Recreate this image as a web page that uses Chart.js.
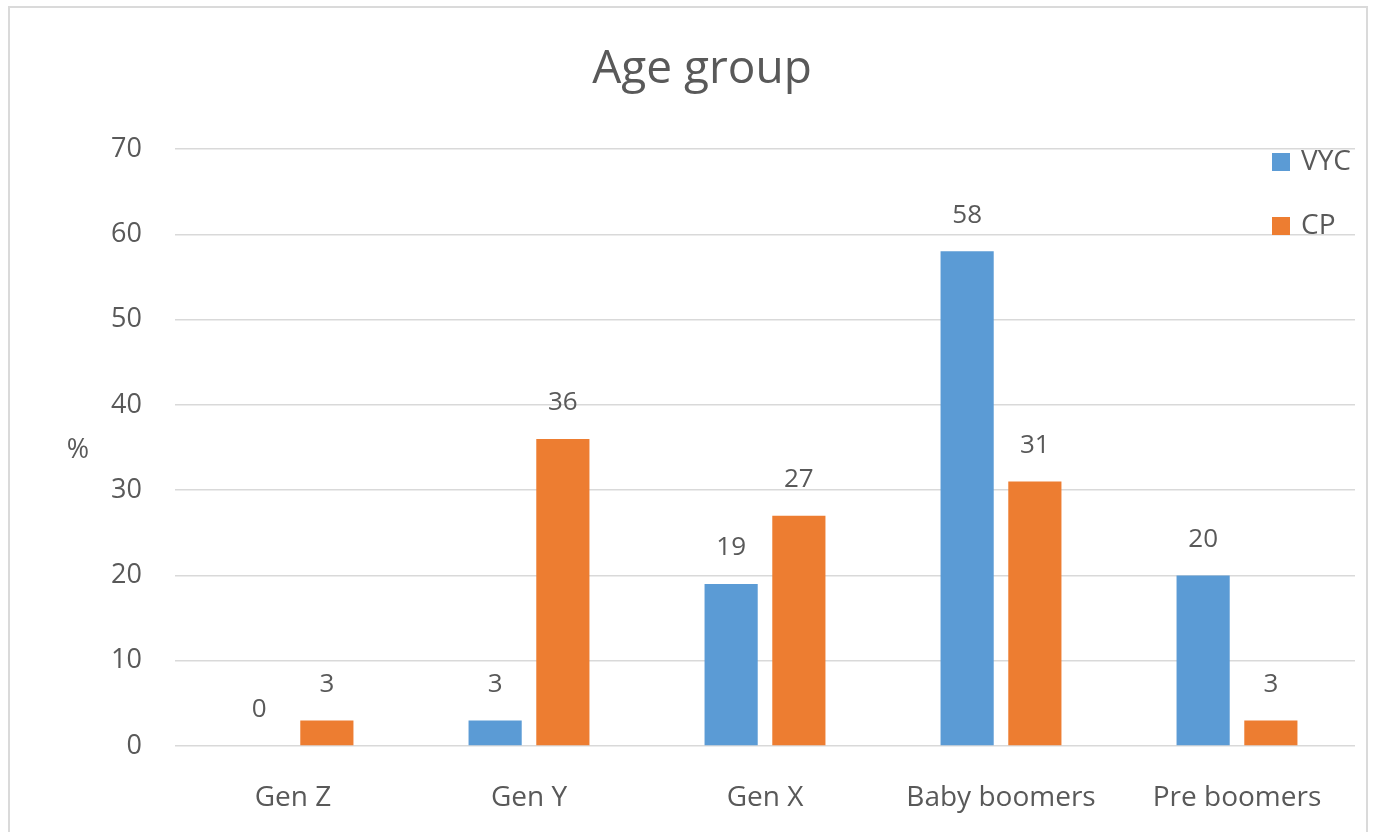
<!DOCTYPE html>
<html>
<head>
<meta charset="utf-8">
<script src="https://cdn.jsdelivr.net/npm/chart.js"></script>
<style>
  body { margin: 0; background: #fff; width: 1376px; height: 832px; overflow: hidden; position: relative; }
  #frame { position: absolute; left: 8px; top: 6px; width: 1360px; height: 840px; border: 2px solid #dadada; box-sizing: border-box; }
  canvas { position: absolute; left: 0; top: 0; }
</style>
</head>
<body>
<div id="frame"></div>
<canvas id="ageChart" width="1376" height="832"></canvas>
<script>
const categories = ['Gen Z', 'Gen Y', 'Gen X', 'Baby boomers', 'Pre boomers'];
const vycValues = [0, 3, 19, 58, 20];
const cpValues = [3, 36, 27, 31, 3];
const yTicks = [0, 10, 20, 30, 40, 50, 60, 70];

const FONT = '"Open Sans", "DejaVu Sans", sans-serif';
const TEXT = '#595959';

// title, "%" axis label, legend and value labels drawn on top of the bars
const decorations = {
  id: 'decorations',
  afterDatasetsDraw(chart) {
    const ctx = chart.ctx;
    ctx.save();
    ctx.fillStyle = TEXT;

    ctx.font = '46px ' + FONT;
    ctx.textAlign = 'center';
    ctx.textBaseline = 'middle';
    ctx.fillText('Age group', 702, 70);

    ctx.font = '27px ' + FONT;
    ctx.fillText('%', 78, 450);

    // value labels above each bar
    ctx.font = '26px ' + FONT;
    chart.data.datasets.forEach((ds, i) => {
      chart.getDatasetMeta(i).data.forEach((bar, j) => {
        ctx.fillText(String(ds.data[j]), bar.x, bar.y - 36);
      });
    });

    // legend
    const legendY = [162, 226];
    ctx.font = '28px ' + FONT;
    chart.data.datasets.forEach((ds, i) => {
      ctx.fillStyle = ds.backgroundColor;
      ctx.fillRect(1272, legendY[i] - 9, 18, 18);
      ctx.fillStyle = TEXT;
      ctx.textAlign = 'left';
      ctx.fillText(ds.label, 1301, legendY[i]);
    });
    ctx.restore();
  }
};

new Chart(document.getElementById('ageChart'), {
  type: 'bar',
  data: {
    labels: categories,
    datasets: [
      { label: 'VYC', data: vycValues, backgroundColor: '#5b9bd5' },
      { label: 'CP', data: cpValues, backgroundColor: '#ed7d31' }
    ]
  },
  options: {
    responsive: false,
    animation: false,
    devicePixelRatio: 1,
    layout: { padding: { top: 149, right: 21, bottom: 0, left: 0 } },
    datasets: { bar: { categoryPercentage: 0.574, barPercentage: 0.785 } },
    plugins: { legend: { display: false }, title: { display: false }, tooltip: { enabled: false } },
    scales: {
      x: {
        grid: { display: false },
        border: { display: false },
        ticks: { color: TEXT, font: { family: FONT, size: 28 }, padding: 27, maxRotation: 0 },
        afterFit(scale) { scale.height = 86; }
      },
      y: {
        min: 0,
        max: 70,
        afterBuildTicks(scale) { scale.ticks = yTicks.map(v => ({ value: v })); },
        grid: { color: '#d9d9d9', lineWidth: 1.5, drawTicks: false },
        border: { display: false },
        ticks: { color: TEXT, font: { family: FONT, size: 27 }, padding: 33 },
        afterFit(scale) { scale.width = 175; }
      }
    }
  },
  plugins: [decorations]
});
</script>
</body>
</html>
